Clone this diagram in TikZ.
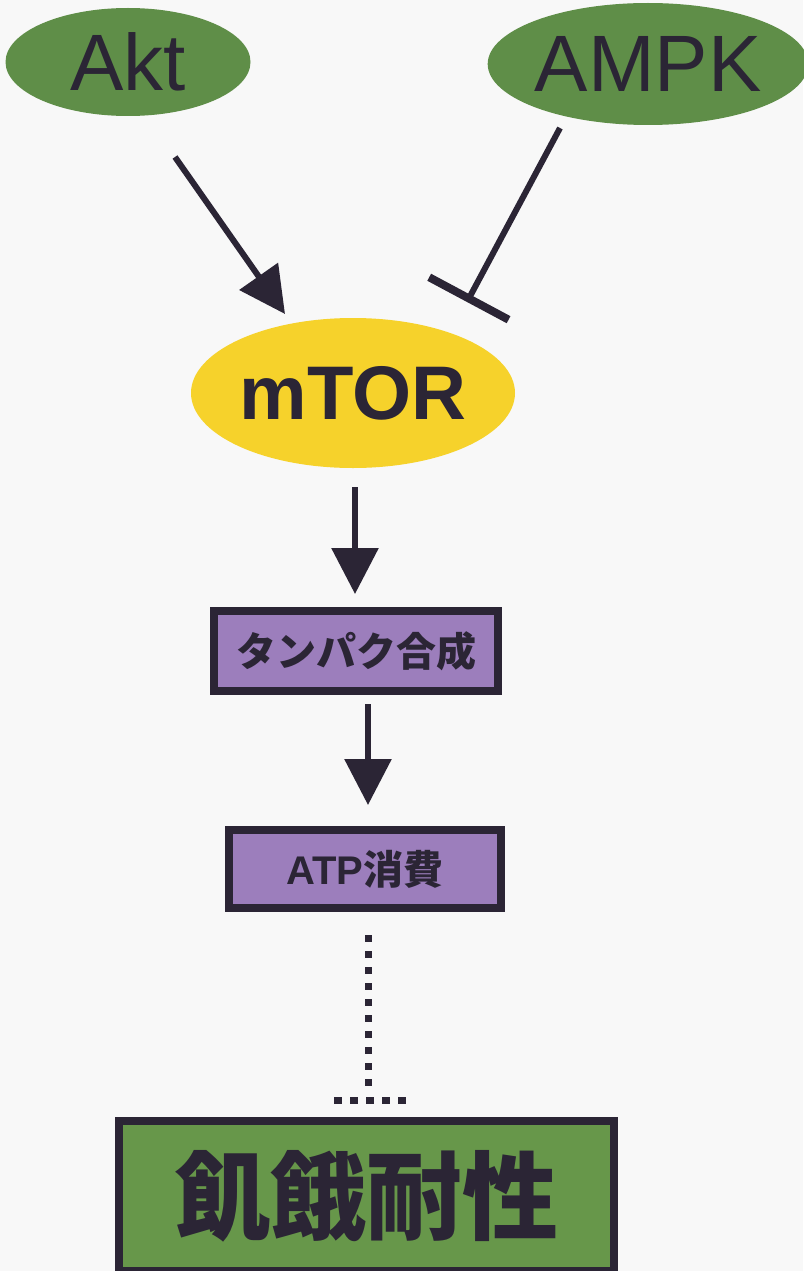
\documentclass[tikz,border=0pt]{standalone}
\usepackage{fontspec}
\setmainfont{Liberation Sans}
\newfontfamily\cjk{Noto Sans CJK JP}
\usetikzlibrary{arrows.meta,shapes.geometric}
\definecolor{ink}{HTML}{2B2535}
\definecolor{leaf}{HTML}{5F8E48}
\definecolor{leafbox}{HTML}{67974A}
\definecolor{sun}{HTML}{F6D22B}
\definecolor{lilac}{HTML}{9C7EBC}
\definecolor{paper}{HTML}{F8F8F8}
\tikzset{
  kinase/.style={ellipse, fill=leaf, inner sep=0pt, text=ink},
  stepbox/.style={rectangle, draw=ink, line width=8pt, fill=lilac, inner sep=0pt, text=ink},
  act/.style={draw=ink, line width=6pt, -{Triangle[length=46pt,width=46pt]}},
  inh/.style={draw=ink, line width=6pt, -{Bar[width=90pt,line width=8pt]}},
  dots/.style={draw=ink, line width=7pt, dash pattern=on 7pt off 9pt},
}
\begin{document}
\begin{tikzpicture}[x=1pt,y=-1pt]
\fill[paper] (0,0) rectangle (803,1271);
\useasboundingbox (0,0) rectangle (803,1271);
\node[kinase, minimum width=245pt, minimum height=108pt] (akt) at (128,62) {\fontsize{80}{80}\selectfont Akt};
\node[kinase, minimum width=304pt, minimum height=122pt] (ampk) at (648,64) {\fontsize{80}{80}\selectfont AMPK};
\node[ellipse, fill=sun, inner sep=0pt, text=ink, minimum width=324pt, minimum height=150pt] (mtor) at (353,393) {\fontsize{76}{76}\selectfont\bfseries mTOR};
\node[stepbox, minimum width=284pt, minimum height=80pt] (prot) at (356,651) {\cjk\bfseries\fontsize{40}{40}\selectfont タンパク合成};
\node[stepbox, minimum width=272pt, minimum height=78pt] (atp) at (365,869) {\bfseries\fontsize{40}{40}\selectfont ATP{\cjk\bfseries 消費}};
\node[rectangle, draw=ink, line width=8pt, fill=leafbox, inner sep=0pt, text=ink, minimum width=495pt, minimum height=150pt] (fam) at (366,1196) {\cjk\bfseries\fontsize{96}{96}\selectfont 飢餓耐性};
% connectors
\coordinate (aktout) at (175,157);
\coordinate (mtorin) at (285,314);
\draw[act] (aktout) -- (mtorin);
\coordinate (ampkout) at (560,128);
\coordinate (mtorbar) at (467,302);
\draw[inh] (ampkout) -- (mtorbar);
\coordinate (mtorout) at (355,487);
\coordinate (protin) at (355,594);
\draw[act] (mtorout) -- (protin);
\coordinate (protout) at (368,704);
\coordinate (atpin) at (368,805);
\draw[act] (protout) -- (atpin);
\coordinate (atpout) at (368,935);
\coordinate (famstop) at (368,1092);
\draw[dots] (atpout) -- (famstop);
\coordinate (barl) at (334,1100);
\coordinate (barr) at (412,1100);
\draw[dots, dash pattern=on 8pt off 8pt] (barl) -- (barr);
\end{tikzpicture}
\end{document}
